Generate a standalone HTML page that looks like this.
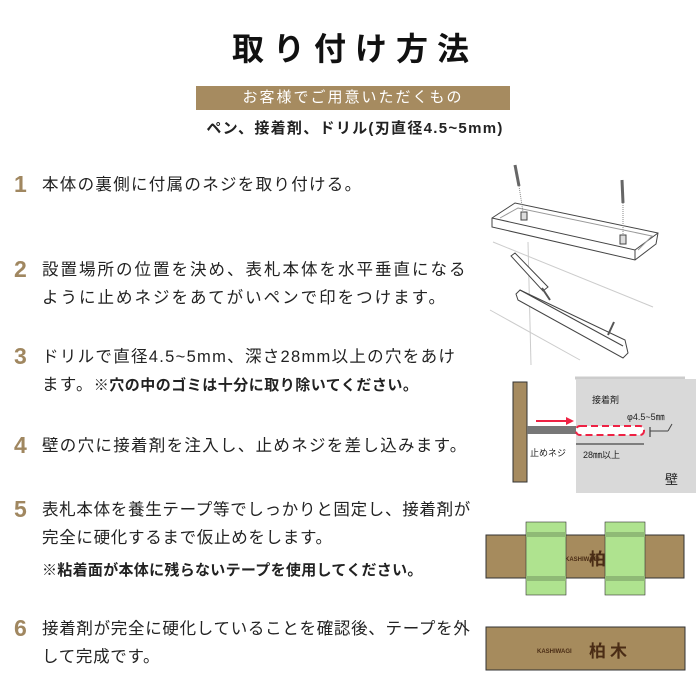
<!DOCTYPE html>
<html><head><meta charset="utf-8"><style>
body{margin:0;width:700px;height:700px;background:#fff;position:relative;overflow:hidden;font-family:"Liberation Sans","Noto Sans CJK JP",sans-serif;color:#222}
.a{position:absolute;white-space:nowrap}
.n{position:absolute;left:14px;font-size:23px;color:#a08760;font-weight:bold}
.t{position:absolute;left:42px;font-size:16.5px;letter-spacing:1.3px;line-height:28px;white-space:nowrap}
</style></head><body>
<div class="a" style="left:0;width:710px;top:24px;text-align:center;font-size:32px;font-weight:bold;letter-spacing:9px;color:#111">取り付け方法</div>
<div class="a" style="left:196px;top:86px;width:314px;height:24px;background:#a68b60;color:#fff;font-size:15px;line-height:24px;text-align:center;letter-spacing:2px">お客様でご用意いただくもの</div>
<div class="a" style="left:190px;top:117px;width:330px;text-align:center;font-size:15px;font-weight:bold;letter-spacing:1.3px">ペン、接着剤、ドリル(刃直径4.5~5mm)</div>

<div class="n" style="top:171px">1</div><div class="t" style="top:171px">本体の裏側に付属のネジを取り付ける。</div>
<div class="n" style="top:256px">2</div><div class="t" style="top:256px;letter-spacing:2px">設置場所の位置を決め、表札本体を水平垂直になる<br>ように止めネジをあてがいペンで印をつけます。</div>
<div class="n" style="top:343px">3</div><div class="t" style="top:343px">ドリルで直径4.5~5mm、深さ28mm以上の穴をあけ<br>ます。<b style="font-size:15px;letter-spacing:0.5px">※穴の中のゴミは十分に取り除いてください。</b></div>
<div class="n" style="top:432px">4</div><div class="t" style="top:432px">壁の穴に接着剤を注入し、止めネジを差し込みます。</div>
<div class="n" style="top:496px">5</div><div class="t" style="top:496px;letter-spacing:0.7px">表札本体を養生テープ等でしっかりと固定し、接着剤が<br>完全に硬化するまで仮止めをします。</div>
<div class="t" style="top:557px;font-weight:bold;font-size:15px;letter-spacing:0.3px">※粘着面が本体に残らないテープを使用してください。</div>
<div class="n" style="top:615px">6</div><div class="t" style="top:615px;letter-spacing:0.7px">接着剤が完全に硬化していることを確認後、テープを外<br>して完成です。</div>

<svg class="a" style="left:480px;top:160px" width="220" height="220" viewBox="0 0 220 220" fill="none" stroke="#444" stroke-width="1">
<line x1="13" y1="82" x2="173" y2="147" stroke="#ccc"/><line x1="10" y1="150" x2="100" y2="200" stroke="#ccc"/><line x1="48" y1="82" x2="51" y2="205" stroke="#ccc"/>
<polygon points="12,58 35,43 178,73 176,84 155,100 12,67" fill="#fff"/>
<polyline points="12,58 155,90 178,73"/><line x1="155" y1="90" x2="155" y2="100"/>
<polyline points="20,58 38,48 172,76 158,90" stroke="#999"/>
<rect x="41" y="52" width="6" height="8" fill="#ddd"/><rect x="140" y="75" width="6" height="9" fill="#ddd"/>
<line x1="35" y1="5" x2="39" y2="26" stroke="#666" stroke-width="3"/><line x1="142" y1="20" x2="143" y2="43" stroke="#666" stroke-width="3"/>
<line x1="39" y1="26" x2="43" y2="52" stroke="#888" stroke-dasharray="1,1"/><line x1="143" y1="43" x2="143" y2="75" stroke="#888" stroke-dasharray="1,1"/>
<polygon points="36,134 40,130 145,180 148,193 143,198 38,140" fill="#fff"/>
<line x1="40" y1="130" x2="143" y2="186"/>
<polygon points="31,96 35,93 68,127 63,131" fill="#fff"/><line x1="62" y1="128" x2="70" y2="140" stroke="#555" stroke-width="2"/>
<line x1="128" y1="175" x2="134" y2="162" stroke="#555" stroke-width="2"/>
<line x1="95" y1="218" x2="205" y2="218" stroke="#ccc" stroke-width="3"/>
</svg>

<svg class="a" style="left:500px;top:375px" width="200" height="120" viewBox="0 0 200 120">
<rect x="76" y="4" width="120" height="114" fill="#d9d9d9"/>
<rect x="13" y="7" width="14" height="100" fill="#a68b60" stroke="#333"/>
<rect x="27" y="51" width="49" height="8" fill="#777"/>
<line x1="36" y1="46" x2="70" y2="46" stroke="#e24" stroke-width="2"/><polygon points="66,42 74,46 66,50" fill="#e24"/>
<rect x="76" y="51" width="68" height="9" rx="4" fill="#fff" stroke="#e24" stroke-width="2" stroke-dasharray="7,4"/>
<line x1="150" y1="52" x2="150" y2="62" stroke="#222"/><line x1="150" y1="56" x2="168" y2="56" stroke="#444"/><line x1="168" y1="56" x2="172" y2="49" stroke="#444"/>
<line x1="76" y1="69" x2="144" y2="69" stroke="#222"/>
<text x="92" y="28" font-size="9" fill="#222">接着剤</text>
<text x="127" y="45" font-size="9" fill="#222">φ4.5~5㎜</text>
<text x="30" y="81" font-size="9" fill="#222">止めネジ</text>
<text x="83" y="83" font-size="9" fill="#222">28㎜以上</text>
<text x="165" y="109" font-size="13" fill="#222">壁</text>
</svg>

<svg class="a" style="left:480px;top:510px" width="220" height="180" viewBox="0 0 220 180">
<rect x="6" y="25" width="198" height="43" fill="#a68b5d" stroke="#333"/>
<text x="85" y="51" font-size="6" fill="#4a2c15" font-weight="bold">KASHIWAGI</text>
<text x="109" y="55" font-size="17" fill="#4a2c15" font-weight="bold" letter-spacing="4">柏木</text>
<rect x="46" y="12" width="40" height="73" fill="#afe38f" stroke="#333" stroke-width="0.6"/>
<rect x="46" y="22" width="40" height="5" fill="#8fba76"/><rect x="46" y="66" width="40" height="5" fill="#8fba76"/>
<rect x="125" y="12" width="40" height="73" fill="#afe38f" stroke="#333" stroke-width="0.6"/>
<rect x="125" y="22" width="40" height="5" fill="#8fba76"/><rect x="125" y="66" width="40" height="5" fill="#8fba76"/>
<rect x="6" y="117" width="199" height="43" fill="#a68b5d" stroke="#333"/>
<text x="57" y="143" font-size="6" fill="#4a2c15" font-weight="bold">KASHIWAGI</text>
<text x="109" y="147" font-size="17" fill="#4a2c15" font-weight="bold" letter-spacing="4">柏木</text>
</svg>
</body></html>
